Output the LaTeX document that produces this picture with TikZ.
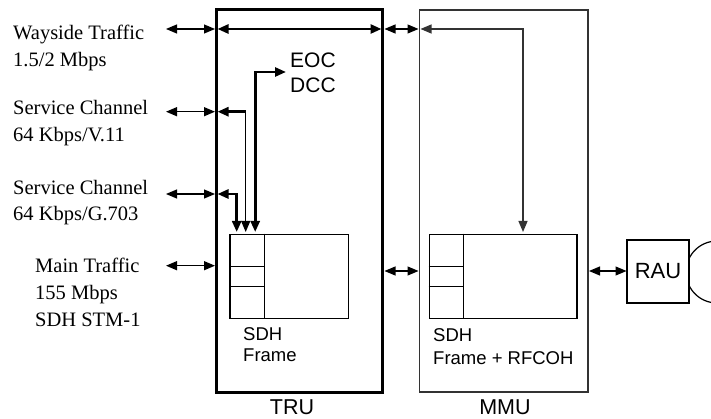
\documentclass[tikz,border=0pt]{standalone}
\usepackage{fontspec}
\setmainfont{Liberation Serif}
\setsansfont{Liberation Sans}
\usetikzlibrary{arrows.meta}
\begin{document}
\begin{tikzpicture}[x=1pt,y=-1pt,
  >={Triangle[length=11pt,width=9pt]},
  lbl/.style={anchor=base west, inner sep=0pt, font=\fontsize{20.5}{24}\selectfont},
  small/.style={anchor=base west, inner sep=0pt, font=\sffamily\fontsize{18.5}{22}\selectfont},
  mid/.style={anchor=base west, inner sep=0pt, font=\sffamily\fontsize{21}{24}\selectfont},
  unit/.style={anchor=base, inner sep=0pt, font=\sffamily\fontsize{21.5}{24}\selectfont},
  trubox/.style={draw, line width=3pt, minimum width=166pt, minimum height=382pt, inner sep=0pt},
  mmubox/.style={draw, line width=1.4pt, black!80, minimum width=168.5pt, minimum height=382pt, inner sep=0pt},
  frame/.style={draw, line width=1.3pt, minimum height=84pt, inner sep=0pt},
  thin/.style={line width=1.2pt},
  thick/.style={line width=2.6pt},
]
\useasboundingbox (0,0) rectangle (711,419);

% antenna circle (behind RAU)
\node[draw, thin, circle, minimum size=62pt, inner sep=0pt] (ant) at (717,272) {};

% main boxes
\node[trubox] (tru) at (299.5,201) {};
\node[mmubox] (mmu) at (503.75,201) {};

% frames
\node[frame, minimum width=118.7pt] (trf) at (289.35,276.3) {};
\draw[line width=1.3pt] (trf.north west -| 264.3,0) -- (trf.south west -| 264.3,0);
\draw[line width=1.3pt] (trf.west |- 0,266.7) -- (264.3,266.7);
\draw[line width=1.3pt] (trf.west |- 0,286.7) -- (264.3,286.7);

\node[frame, minimum width=147.7pt] (mmf) at (503.15,276.3) {};
\draw[line width=1.3pt] (mmf.north west -| 463.7,0) -- (mmf.south west -| 463.7,0);
\draw[line width=1.3pt] (mmf.west |- 0,266.7) -- (463.7,266.7);
\draw[line width=1.3pt] (mmf.west |- 0,286.7) -- (463.7,286.7);

% RAU
\node[draw, thin, fill=white, minimum width=62pt, minimum height=63pt, inner sep=0pt,
      font=\sffamily\fontsize{22}{24}\selectfont] (rau) at (658,271.5) {RAU};

% left labels
\node[lbl] (w1) at (13,40) {Wayside Traffic};
\node[lbl] (w2) at (13,67) {1.5/2 Mbps};
\node[lbl] (s1) at (13,115) {Service Channel};
\node[lbl] (s2) at (13,141.7) {64 Kbps/V.11};
\node[lbl] (g1) at (13,195) {Service Channel};
\node[lbl] (g2) at (13,220.7) {64 Kbps/G.703};
\node[lbl] (m1) at (35,272.7) {Main Traffic};
\node[lbl] (m2) at (35,299.5) {155 Mbps};
\node[lbl] (m3) at (35,326) {SDH STM-1};

% inner texts
\node[mid] (eoc) at (290,68) {EOC};
\node[mid] (dcc) at (290,93) {DCC};
\node[small] (tsdh) at (243,340) {SDH};
\node[small] (tfr) at (243,361.7) {Frame};
\node[small] (msdh) at (433,341.7) {SDH};
\node[small] (mfr) at (433,364.5) {Frame + RFCOH};
\node[unit] (trul) at (292,414.5) {TRU};
\node[unit] (mmul) at (505,414.5) {MMU};

% coordinates
\coordinate (ew) at (166,29);
\coordinate (ev) at (166,111.7);
\coordinate (eg) at (166,194);
\coordinate (em) at (166,265.7);
\coordinate (tw) at (215,29);
\coordinate (tv) at (215,111.7);
\coordinate (tg) at (215,194);
\coordinate (tm) at (215,265.7);
\coordinate (iw) at (217.5,29);
\coordinate (iwr) at (381.5,29);
\coordinate (iv) at (217.5,111.7);
\coordinate (ivc) at (245.7,111.7);
\coordinate (ivd) at (245.7,232);
\coordinate (ig) at (217.5,194);
\coordinate (igc) at (236.7,194);
\coordinate (igd) at (236.7,232);
\coordinate (ied) at (255.2,232);
\coordinate (iec) at (255.2,72);
\coordinate (iee) at (286,72);
\coordinate (trw) at (384.5,29);
\coordinate (mlw) at (418.5,29);
\coordinate (trm) at (384.5,271);
\coordinate (mlm) at (418.5,271);
\coordinate (mw) at (420.5,29);
\coordinate (mwc) at (523,29);
\coordinate (mwd) at (523,232);
\coordinate (mrr) at (589,271);
\coordinate (rl) at (626.5,271);

% external connectors
\draw[thin,<->] (ew) -- (tw);
\draw[thin,<->] (ev) -- (tv);
\draw[thin,<->] (eg) -- (tg);
\draw[thin,<->] (em) -- (tm);

% inside TRU
\draw[thick,<->] (iw) -- (iwr);
\draw[thick,<-] (iv) -- (ivc);
\draw[thin,->] (ivc) -- (ivd);
\draw[thick,<->] (ig) -- (igc) -- (igd);
\draw[thick,<->] (ied) -- (iec) -- (iee);

% TRU to MMU
\draw[thin,<->] (trw) -- (mlw);
\draw[thin,<->] (trm) -- (mlm);

% inside MMU
\draw[thin,black!80,<->] (mw) -- (mwc) -- (mwd);

% MMU to RAU
\draw[thin,<->] (mrr) -- (rl);
\end{tikzpicture}
\end{document}
